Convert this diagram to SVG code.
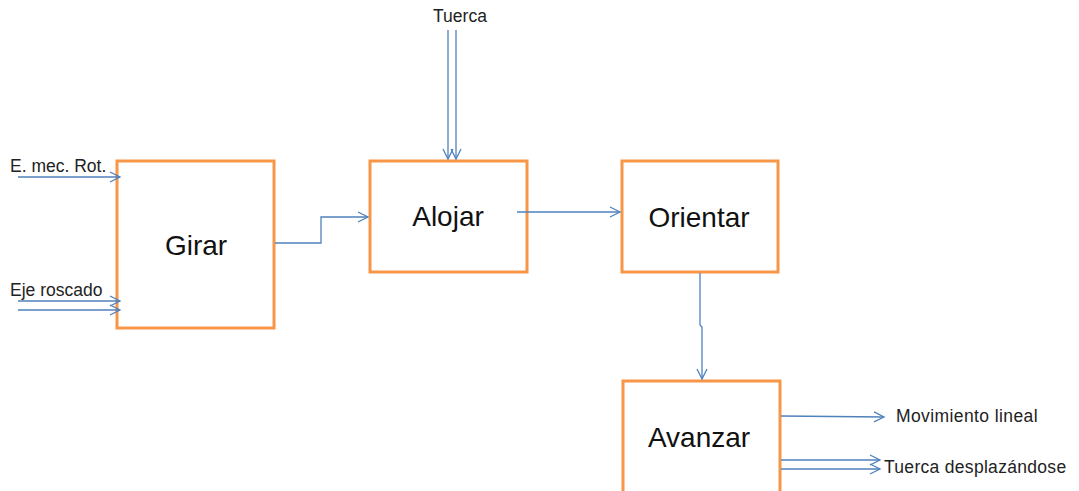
<svg xmlns="http://www.w3.org/2000/svg" width="1079" height="491" viewBox="0 0 1079 491">
<defs>
<marker id="arr" markerWidth="12" markerHeight="12" refX="10" refY="5" orient="auto" markerUnits="userSpaceOnUse" overflow="visible">
<path d="M0,0 L10,5 L0,10" fill="none" stroke="#4F81BD" stroke-width="1.3"/>
</marker>
</defs>
<style>
.box{fill:#fff;stroke:#F79646;stroke-width:3}
.lbl{font-family:"Liberation Sans",Arial,sans-serif;font-size:28px;fill:#111;text-anchor:middle}
.sm{font-family:"Liberation Sans",Arial,sans-serif;font-size:17.5px;fill:#222}
.c{fill:none;stroke:#4F81BD;stroke-width:1.3;marker-end:url(#arr)}
</style>
<rect width="1079" height="491" fill="#fff"/>
<g id="girar"><rect class="box" x="117" y="161" width="157" height="167"/><text class="lbl" x="196" y="255">Girar</text></g>
<g id="alojar"><rect class="box" x="370" y="161" width="157" height="111"/><text class="lbl" x="448" y="226">Alojar</text></g>
<g id="orientar"><rect class="box" x="622" y="161" width="156" height="111"/><text class="lbl" x="699" y="227">Orientar</text></g>
<g id="avanzar"><rect class="box" x="623" y="381" width="157" height="120"/><text class="lbl" x="699" y="447">Avanzar</text></g>
<g id="labels">
<text class="sm" x="10" y="172">E. mec. Rot.</text>
<text class="sm" x="10" y="296">Eje roscado</text>
<text class="sm" x="460" y="22" text-anchor="middle">Tuerca</text>
<text class="sm" x="896" y="422" letter-spacing="0.4">Movimiento lineal</text>
<text class="sm" x="884" y="473" letter-spacing="0.3">Tuerca desplazándose</text>
</g>
<g id="connectors">
<path class="c" d="M18,177 L120,177"/>
<path class="c" d="M18,301 L120,301"/>
<path class="c" d="M18,310 L120,310"/>
<path class="c" d="M275,243 L321,243 L321,217 L368,217"/>
<path class="c" d="M448,30 L448,159"/>
<path class="c" d="M456,30 L456,159"/>
<path class="c" d="M517,212 L620,212"/>
<path class="c" d="M700,273 L700,325 L702,327 L702,379"/>
<path class="c" d="M781,416 L884,417"/>
<path class="c" d="M781,460 L880,460"/>
<path class="c" d="M781,469 L880,469"/>
</g>
</svg>
